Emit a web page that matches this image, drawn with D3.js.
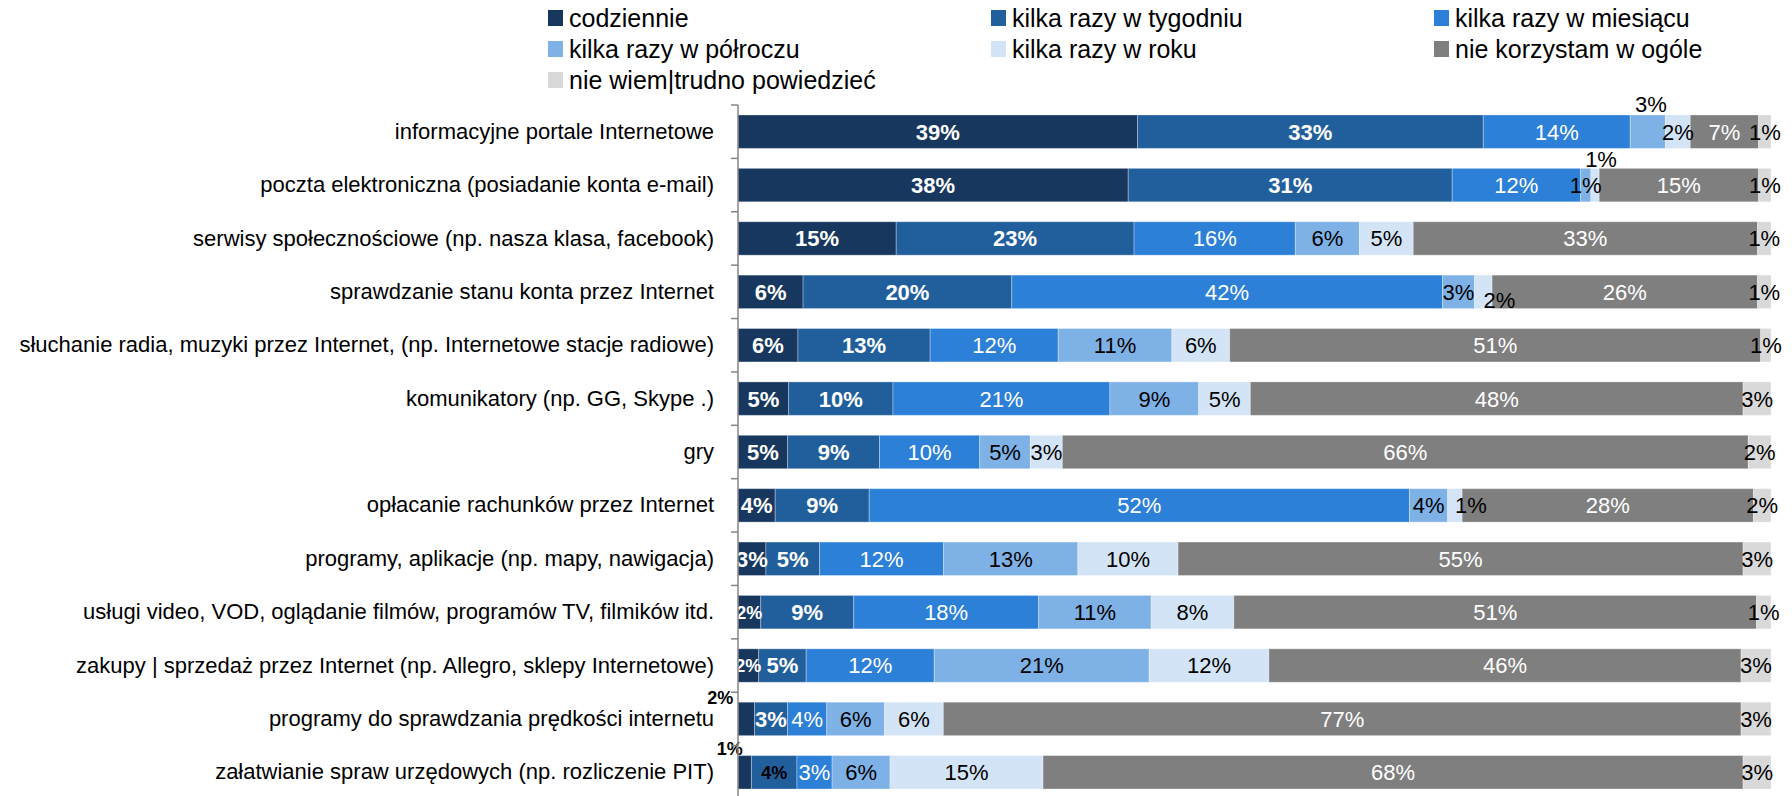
<!DOCTYPE html>
<html>
<head>
<meta charset="utf-8">
<script src="https://cdn.jsdelivr.net/npm/d3@7"></script>
<style>
  body { margin: 0; background: #fff; }
  svg text { font-family: "Liberation Sans", Arial, sans-serif; }
</style>
</head>
<body>
<div class="chart"></div>
<script>
const w = 1792;
const h = 796;

const categories = [
  "informacyjne portale Internetowe ",
  "poczta elektroniczna (posiadanie konta e-mail)",
  "serwisy społecznościowe (np. nasza klasa, facebook)",
  "sprawdzanie stanu konta przez Internet",
  "słuchanie radia, muzyki przez Internet, (np. Internetowe stacje radiowe)",
  "komunikatory (np. GG, Skype .)",
  "gry",
  "opłacanie rachunków przez Internet",
  "programy, aplikacje (np. mapy, nawigacja)",
  "usługi video, VOD, oglądanie filmów, programów TV, filmików itd.",
  "zakupy | sprzedaż przez Internet (np. Allegro, sklepy Internetowe)",
  "programy do sprawdzania prędkości internetu",
  "załatwianie spraw urzędowych (np. rozliczenie PIT)"
];

const seriesNames = ["codziennie", "kilka razy w tygodniu", "kilka razy w miesiącu",
  "kilka razy w półroczu", "kilka razy w roku", "nie korzystam w ogóle", "nie wiem|trudno powiedzieć"];

// shares in % (labels show them rounded)
const codziennie   = [38.6, 37.7, 15.3,  6.3,  5.8,  4.9,  4.8,  3.6,  2.7,  2.2,  2.0,  1.6,  1.3];
const tygodniu     = [33.4, 31.3, 23.0, 20.2, 12.8, 10.1,  8.9,  9.1,  5.2,  9.0,  4.6,  3.2,  4.4];
const miesiacu     = [14.2, 12.4, 15.6, 41.7, 12.4, 21.0,  9.7, 52.3, 12.0, 17.9, 12.4,  3.8,  3.4];
const polroczu     = [ 3.4,  1.0,  6.2,  3.1, 11.0,  8.6,  4.9,  3.7, 13.0, 10.9, 20.8,  5.6,  5.6];
const roku         = [ 2.4,  0.8,  5.2,  1.7,  5.6,  5.0,  3.1,  1.4,  9.7,  8.0, 11.6,  5.7, 14.8];
const nieKorzystam = [ 6.6, 15.4, 33.3, 25.7, 51.4, 47.7, 66.4, 28.2, 54.7, 50.6, 45.7, 77.3, 67.7];
const nieWiem      = [ 1.2,  1.2,  1.3,  1.3,  1.0,  2.7,  2.2,  1.7,  2.7,  1.4,  2.9,  2.9,  2.7];

const colors = ["#17375E", "#215E9C", "#2C80D8", "#7EB1E6", "#D3E4F6", "#7F7F7F", "#D9D9D9"];
const labelColors = ["#fff", "#fff", "#fff", "#000", "#000", "#fff", "#000"];
const labelBold = [true, true, false, false, false, false, false];

// hand-placed labels, like in the original sheet: [row, series, dx, dy, color, bold, size]
const labelTweaks = [
  [0, 3, 3, -28, "#000", false, 22],
  [1, 4, 6, -26, "#000", false, 22],
  [3, 4, 16, 8, "#000", false, 22],
  [7, 4, 16, 0, "#000", false, 22],
  [9, 0, 0, 0, "#fff", true, 18],
  [10, 0, 0, 0, "#fff", true, 18],
  [11, 0, -26, -21, "#000", true, 18],
  [12, 0, -15, -24, "#000", true, 18],
  [12, 1, 0, 0, "#000", true, 18]
];

const fmt = d3.format(".0f");

const seriesData = [codziennie, tygodniu, miesiacu, polroczu, roku, nieKorzystam, nieWiem];
const rows = categories.map((c, i) => {
  const o = { cat: c, idx: i };
  seriesData.forEach((s, k) => o["s" + k] = s[i]);
  return o;
});
const keys = seriesData.map((s, k) => "s" + k);

const margin = { top: 105, right: 21, bottom: -3, left: 738 };

const svg = d3.select(".chart")
  .append("svg")
  .attr("width", w)
  .attr("height", h);

const x = d3.scaleLinear()
  .domain([0, 1])
  .range([margin.left, w - margin.right]);

const y = d3.scaleBand()
  .domain(categories)
  .range([margin.top, h - margin.bottom])
  .paddingInner(0.374)
  .paddingOuter(0.187);

const stack = d3.stack().keys(keys).offset(d3.stackOffsetExpand);
const stacked = stack(rows);

const layers = svg.append("g")
  .selectAll("g")
  .data(stacked)
  .enter().append("g")
  .attr("fill", (d, i) => colors[i]);

layers.selectAll("rect")
  .data(d => d)
  .enter().append("rect")
  .attr("x", d => x(d[0]))
  .attr("y", d => y(d.data.cat))
  .attr("width", d => x(d[1]) - x(d[0]))
  .attr("height", y.bandwidth())
  .attr("stroke", "#fff")
  .attr("stroke-opacity", 0.3)
  .attr("stroke-width", 1);

// data labels
const labels = [];
stacked.forEach((layer, k) => {
  layer.forEach(d => {
    const r = d.data.idx;
    const lab = {
      x: (x(d[0]) + x(d[1])) / 2,
      y: y(d.data.cat) + y.bandwidth() / 2,
      text: fmt(d.data["s" + k]) + "%",
      color: labelColors[k],
      bold: labelBold[k],
      size: 22
    };
    const t = labelTweaks.find(a => a[0] === r && a[1] === k);
    if (t) {
      lab.x += t[2]; lab.y += t[3];
      lab.color = t[4]; lab.bold = t[5]; lab.size = t[6];
    }
    labels.push(lab);
  });
});

svg.append("g")
  .selectAll("text")
  .data(labels)
  .enter().append("text")
  .attr("x", d => d.x)
  .attr("y", d => d.y)
  .attr("dy", "0.36em")
  .attr("text-anchor", "middle")
  .attr("font-size", d => d.size + "px")
  .attr("font-weight", d => d.bold ? "bold" : "normal")
  .attr("fill", d => d.color)
  .text(d => d.text);

// category axis
const yAxis = d3.axisLeft(y).tickSize(0).tickPadding(24);
const ax = svg.append("g")
  .attr("transform", `translate(${margin.left},0)`)
  .call(yAxis);
ax.select(".domain").remove();
ax.selectAll("text")
  .attr("font-size", "22px")
  .attr("fill", "#000")
  .style("font-family", '"Liberation Sans", Arial, sans-serif');

// axis line with ticks between categories
const step = y.step();
const boundaries = d3.range(categories.length + 1).map(i => margin.top + i * step);
svg.append("line")
  .attr("x1", margin.left).attr("x2", margin.left)
  .attr("y1", margin.top).attr("y2", h)
  .attr("stroke", "#868686").attr("stroke-width", 1.5);
svg.append("g")
  .selectAll("line")
  .data(boundaries)
  .enter().append("line")
  .attr("x1", margin.left - 7).attr("x2", margin.left)
  .attr("y1", d => d).attr("y2", d => d)
  .attr("stroke", "#868686").attr("stroke-width", 1.5);

// legend
const legend = svg.append("g")
  .selectAll("g")
  .data(seriesNames)
  .enter().append("g")
  .attr("transform", (d, i) => `translate(${548 + (i % 3) * 443},${18 + Math.floor(i / 3) * 31})`);

legend.append("rect")
  .attr("x", 0).attr("y", -8)
  .attr("width", 15).attr("height", 16)
  .attr("fill", (d, i) => colors[i]);

legend.append("text")
  .attr("x", 21)
  .attr("y", 0)
  .attr("dy", "0.36em")
  .attr("font-size", "25px")
  .text(d => d);
</script>
</body>
</html>
